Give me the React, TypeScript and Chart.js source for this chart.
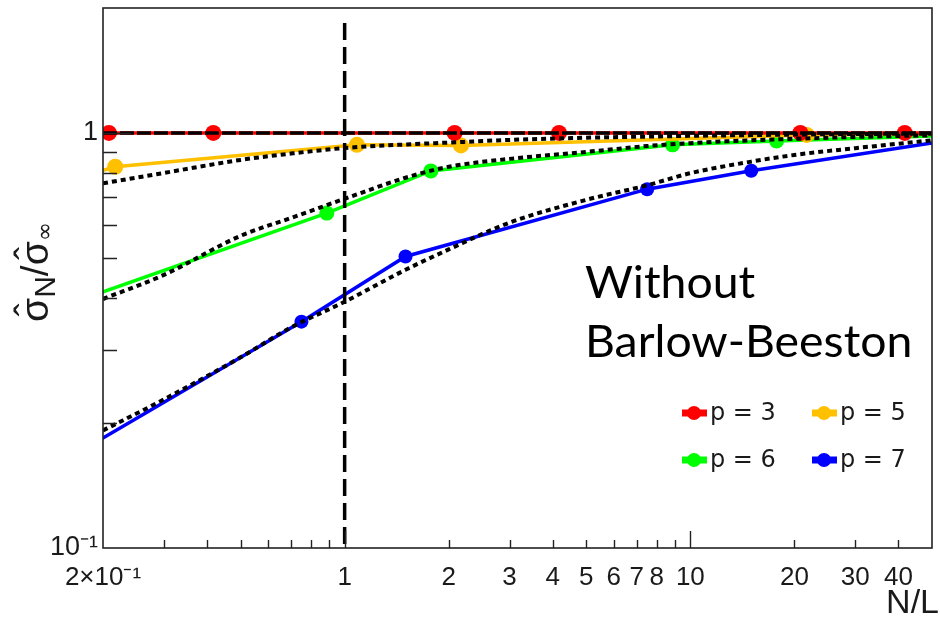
import React, { useEffect, useRef } from "react";
import { Chart, registerables } from "chart.js";

Chart.register(...registerables);

// ---- data ----
const P3_X = [0.104, 0.208, 0.417, 2.08, 4.17, 20.8, 41.7, 208];
const P3_Y = [1.0, 1.0, 1.0, 1.0, 1.0, 1.0, 1.0, 1.0];

const P5_X = [0.1085, 0.217, 1.085, 2.17, 21.7, 108.5];
const P5_Y = [0.70, 0.829, 0.936, 0.933, 0.989, 1.0];

const P6_X = [0.1776, 0.888, 1.776, 8.88, 17.76, 88.8];
const P6_Y = [0.40, 0.641, 0.810, 0.936, 0.956, 0.998];

const P7_X = [0.15, 0.75, 1.5, 7.5, 15, 75];
const P7_Y = [0.160, 0.351, 0.504, 0.732, 0.811, 0.996];

const THEORY_X = [0.2, 0.3, 0.5, 0.7, 1, 1.5, 2, 3, 5, 7.5, 10, 15, 20, 30, 50];
const T3_Y = [1, 1, 1, 1, 1, 1, 1, 1, 1, 1, 1, 1, 1, 1, 1];
const T5_Y = [0.756, 0.801, 0.861, 0.892, 0.920, 0.938, 0.948, 0.962, 0.974, 0.980, 0.984, 0.988, 0.991, 0.994, 0.996];
const T6_Y = [0.398, 0.455, 0.565, 0.624, 0.694, 0.780, 0.829, 0.866, 0.900, 0.930, 0.945, 0.960, 0.968, 0.978, 0.987];
const T7_Y = [0.192, 0.228, 0.288, 0.340, 0.392, 0.468, 0.524, 0.608, 0.690, 0.748, 0.800, 0.853, 0.885, 0.919, 0.960];

const VLINE_X = [1, 1];
const VLINE_Y = [1.84, 0.1];

const X_LABEL_VALUES = [0.2, 1, 2, 3, 4, 5, 6, 7, 8, 10, 20, 30, 40];
const X_LABEL_TEXTS = ["2×10⁻¹", "1", "2", "3", "4", "5", "6", "7", "8", "10", "20", "30", "40"];
const X_MINOR = [0.3, 0.4, 0.5, 0.6, 0.7, 0.8, 0.9, 2, 3, 4, 5, 6, 7, 8, 9, 20, 30, 40];
const X_MAJOR = [1, 10];

const Y_LABEL_VALUES = [0.1, 1];
const Y_LABEL_TEXTS = ["10⁻¹", "1"];
const Y_MINOR = [0.2, 0.3, 0.4, 0.5, 0.6, 0.7, 0.8, 0.9];
const Y_MAJOR = [1];

const SERIES_NAMES = ["p = 3", "p = 5", "p = 6", "p = 7"];
const SERIES_COLORS = ["#ff0000", "#ffc000", "#00ff00", "#0000ff"];

const NOTE_LINES = ["Without", "Barlow-Beeston"];

function pts(xs: number[], ys: number[]) {
  return xs.map((x, i) => ({ x, y: ys[i] }));
}

export default function App() {
  const ref = useRef<HTMLCanvasElement>(null);

  useEffect(() => {
    const canvas = ref.current;
    if (!canvas) return;

    const overlay = {
      id: "rootOverlay",
      afterDraw(chart: any) {
        const { ctx, chartArea: a, scales } = chart;
        const xs = scales.x;
        const ys = scales.y;
        ctx.save();
        // frame
        ctx.strokeStyle = "#222";
        ctx.lineWidth = 1.6;
        ctx.strokeRect(a.left, a.top, a.right - a.left, a.bottom - a.top);
        // inner ticks
        ctx.lineWidth = 1.4;
        ctx.beginPath();
        for (const v of X_MINOR) {
          const px = Math.round(xs.getPixelForValue(v)) + 0.5;
          ctx.moveTo(px, a.bottom);
          ctx.lineTo(px, a.bottom - 8);
        }
        for (const v of X_MAJOR) {
          const px = Math.round(xs.getPixelForValue(v)) + 0.5;
          ctx.moveTo(px, a.bottom);
          ctx.lineTo(px, a.bottom - 17);
        }
        for (const v of Y_MINOR) {
          const py = Math.round(ys.getPixelForValue(v)) + 0.5;
          ctx.moveTo(a.left, py);
          ctx.lineTo(a.left + 14, py);
        }
        for (const v of Y_MAJOR) {
          const py = Math.round(ys.getPixelForValue(v)) + 0.5;
          ctx.moveTo(a.left, py);
          ctx.lineTo(a.left + 28, py);
        }
        ctx.stroke();

        // legend (2 x 2)
        const legPos = [
          [694, 413],
          [824, 413],
          [694, 460],
          [824, 460],
        ];
        ctx.font = "24px 'DejaVu Sans'";
        ctx.textBaseline = "middle";
        ctx.textAlign = "left";
        SERIES_NAMES.forEach((name, i) => {
          const [cx, cy] = legPos[i];
          ctx.strokeStyle = SERIES_COLORS[i];
          ctx.fillStyle = SERIES_COLORS[i];
          ctx.lineWidth = 7;
          ctx.beginPath();
          ctx.moveTo(cx - 12, cy);
          ctx.lineTo(cx + 13, cy);
          ctx.stroke();
          ctx.beginPath();
          ctx.arc(cx, cy, 7, 0, Math.PI * 2);
          ctx.fill();
          ctx.fillStyle = "#1a1a1a";
          ctx.fillText(name, cx + 16, cy + 1);
        });

        // annotation
        ctx.fillStyle = "#000";
        ctx.font = "45px Lato";
        ctx.textBaseline = "alphabetic";
        ctx.save();
        ctx.translate(585, 0);
        ctx.scale(1.03, 1);
        ctx.fillText(NOTE_LINES[0], 0, 298);
        ctx.fillText(NOTE_LINES[1], 0, 357);
        ctx.restore();

        // x title
        ctx.fillStyle = "#1a1a1a";
        ctx.font = "34px 'Liberation Sans'";
        ctx.textAlign = "right";
        ctx.fillText("N/L", 939, 613);

        // y title  σ̂_N / σ̂_∞ (rotated)
        ctx.translate(48, 272);
        ctx.rotate(-Math.PI / 2);
        ctx.textAlign = "left";
        const big = "39px 'Liberation Sans'";
        const sub = "30px 'Liberation Sans'";
        const subInf = "23px 'DejaVu Sans'";
        const parts: { t: string; f: string; dy: number; hat?: boolean }[] = [
          { t: "σ", f: big, dy: 0, hat: true },
          { t: "N", f: sub, dy: 7 },
          { t: "/", f: big, dy: 0 },
          { t: "σ", f: big, dy: 0, hat: true },
          { t: "∞", f: subInf, dy: 4 },
        ];
        let total = 0;
        const widths = parts.map((p) => {
          ctx.font = p.f;
          const w = ctx.measureText(p.t).width;
          total += w;
          return w;
        });
        let u = -total / 2;
        parts.forEach((p, i) => {
          ctx.font = p.f;
          ctx.fillText(p.t, u, p.dy);
          if (p.hat) {
            ctx.font = big;
            const hw = ctx.measureText("ˆ").width;
            ctx.fillText("ˆ", u + widths[i] / 2 - hw / 2, -6);
          }
          u += widths[i];
        });
        ctx.restore();
      },
    };

    const colored = (i: number, xs: number[], ysv: number[], r: number) => ({
      label: SERIES_NAMES[i],
      data: pts(xs, ysv),
      borderColor: SERIES_COLORS[i],
      backgroundColor: SERIES_COLORS[i],
      borderWidth: 3.5,
      pointRadius: r,
      pointBorderWidth: 0,
      pointBackgroundColor: SERIES_COLORS[i],
      tension: 0,
      order: 10,
      clip: 0,
    });

    const theory = (ysv: number[]) => ({
      label: "theory",
      data: pts(THEORY_X, ysv),
      borderColor: "#000",
      borderWidth: 4,
      borderDash: [5, 4],
      pointRadius: 0,
      cubicInterpolationMode: "monotone",
      order: 5,
      clip: 0,
    });

    const chart = new Chart(canvas, {
      type: "line",
      data: {
        datasets: [
          colored(0, P3_X, P3_Y, 8),
          colored(1, P5_X, P5_Y, 8),
          colored(2, P6_X, P6_Y, 7.5),
          colored(3, P7_X, P7_Y, 7),
          {
            label: "theory p=3",
            data: pts(THEORY_X, T3_Y),
            borderColor: "#000",
            borderWidth: 3.5,
            borderDash: [14, 3],
            pointRadius: 0,
            order: 4,
            clip: 0,
          },
          theory(T5_Y),
          theory(T6_Y),
          theory(T7_Y),
          {
            label: "N = L",
            data: pts(VLINE_X, VLINE_Y),
            borderColor: "#000",
            borderWidth: 3.5,
            borderDash: [17, 7],
            pointRadius: 0,
            order: 1,
            clip: 0,
          },
        ] as any,
      },
      options: {
        responsive: false,
        animation: false,
        events: [],
        layout: { padding: { left: 0, right: 3, top: 7, bottom: 0 } },
        plugins: {
          legend: { display: false },
          tooltip: { enabled: false },
        },
        scales: {
          x: {
            type: "logarithmic",
            min: 0.2,
            max: 50,
            grid: { display: false, drawTicks: false },
            border: { display: false },
            afterBuildTicks: (scale: any) => {
              scale.ticks = X_LABEL_VALUES.map((v) => ({ value: v }));
            },
            afterFit: (scale: any) => {
              scale.height = 69;
              scale.paddingLeft = 0;
              scale.paddingRight = 0;
            },
            ticks: {
              autoSkip: false,
              maxRotation: 0,
              minRotation: 0,
              padding: 14,
              color: "#1a1a1a",
              font: { family: "'Liberation Sans'", size: 26 },
              callback: (value: any) => {
                const i = X_LABEL_VALUES.findIndex((v) => Math.abs(v - Number(value)) < 1e-9);
                return i >= 0 ? X_LABEL_TEXTS[i] : "";
              },
            },
          },
          y: {
            type: "logarithmic",
            min: 0.1,
            max: 2,
            grid: { display: false, drawTicks: false },
            border: { display: false },
            afterBuildTicks: (scale: any) => {
              scale.ticks = Y_LABEL_VALUES.map((v) => ({ value: v }));
            },
            afterFit: (scale: any) => {
              scale.width = 103;
              scale.paddingTop = 0;
              scale.paddingBottom = 0;
            },
            ticks: {
              autoSkip: false,
              padding: 5,
              color: "#1a1a1a",
              font: { family: "'Liberation Sans'", size: 27 },
              callback: (value: any) => {
                const i = Y_LABEL_VALUES.findIndex((v) => Math.abs(v - Number(value)) < 1e-9);
                return i >= 0 ? Y_LABEL_TEXTS[i] : "";
              },
            },
          },
        },
      },
      plugins: [overlay],
    });

    return () => chart.destroy();
  }, []);

  return (
    <div style={{ position: "fixed", left: 0, top: 0, width: 940, height: 617, background: "#fff" }}>
      <canvas ref={ref} width={940} height={617} style={{ display: "block" }} />
    </div>
  );
}
